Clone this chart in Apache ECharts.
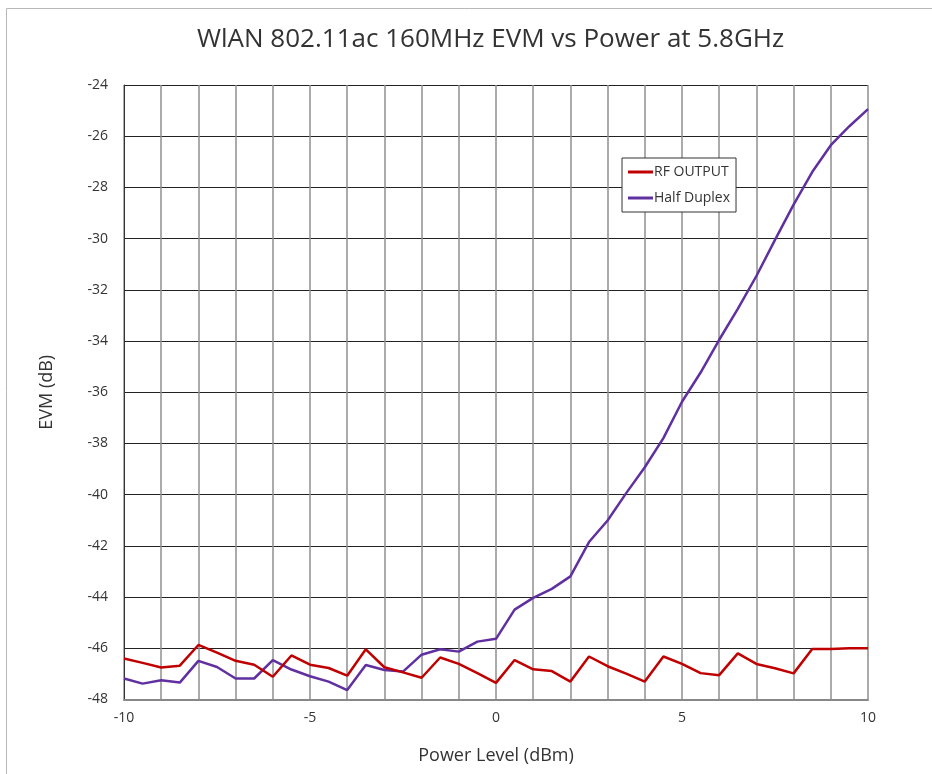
<!DOCTYPE html>
<html>
<head>
<meta charset="utf-8">
<script src="https://cdn.jsdelivr.net/npm/echarts@6/dist/echarts.min.js"></script>
<style>html,body{margin:0;padding:0;background:#fff}#c{width:932px;height:774px}</style>
</head>
<body>
<div id="c"></div>
<script>
var powerLevels = [-10,-9.5,-9,-8.5,-8,-7.5,-7,-6.5,-6,-5.5,-5,-4.5,-4,-3.5,-3,-2.5,-2,-1.5,-1,-0.5,0,
  0.5,1,1.5,2,2.5,3,3.5,4,4.5,5,5.5,6,6.5,7,7.5,8,8.5,9,9.5,10];
var rfOutput = [-46.40,-46.57,-46.75,-46.68,-45.87,-46.17,-46.49,-46.64,-47.11,-46.28,-46.64,-46.77,-47.07,-46.04,-46.74,-46.94,-47.15,-46.36,-46.61,-46.97,-47.35,
  -46.46,-46.82,-46.89,-47.30,-46.32,-46.70,-46.99,-47.30,-46.32,-46.61,-46.97,-47.05,-46.20,-46.61,-46.78,-46.98,-46.03,-46.03,-46.00,-46.00];
var halfDuplex = [-47.18,-47.38,-47.25,-47.34,-46.49,-46.73,-47.18,-47.18,-46.46,-46.83,-47.09,-47.30,-47.63,-46.65,-46.85,-46.91,-46.25,-46.04,-46.13,-45.74,-45.63,
  -44.49,-44.03,-43.68,-43.19,-41.85,-41.01,-39.94,-38.93,-37.79,-36.37,-35.23,-33.95,-32.74,-31.46,-30.05,-28.67,-27.40,-26.35,-25.61,-24.94];
var xLabelTicks = [-10,-5,0,5,10];
var titleText = 'WlAN 802.11ac 160MHz EVM vs Power at 5.8GHz';

function pairs(xs, ys){ return xs.map(function(x,i){ return [x, ys[i]]; }); }
var font = "'Open Sans', 'Noto Sans', sans-serif";
var chart = echarts.init(document.getElementById('c'), null, {renderer:'canvas'});
chart.setOption({
  animation: false,
  backgroundColor: '#fff',
  graphic: [{
    type: 'rect', left: 4, top: 6, shape: {x:0, y:0, width: 1000, height: 900},
    style: {fill: 'none', stroke: '#b8b8b8', lineWidth: 1}, silent: true, z: -1
  }],
  title: {
    text: titleText, left: 192, top: 22,
    textStyle: {fontFamily: font, fontSize: 26, fontWeight: 'normal', color: '#333'}
  },
  legend: {
    orient: 'vertical', left: 622, top: 158,
    backgroundColor: '#fff', borderColor: '#333', borderWidth: 1,
    padding: [7, 6, 7, 6], itemGap: 12,
    itemWidth: 25, itemHeight: 3, icon: 'rect',
    textStyle: {fontFamily: font, fontSize: 14, color: '#333', padding: [0,0,0,-4]},
    data: ['RF OUTPUT', 'Half Duplex']
  },
  grid: {left: 124, top: 85, right: 64, bottom: 74.5, containLabel: false},
  xAxis: {
    type: 'value', min: -10, max: 10, interval: 1,
    name: 'Power Level (dBm)', nameLocation: 'middle', nameGap: 47,
    nameTextStyle: {fontFamily: font, fontSize: 18, color: '#333'},
    axisLine: {show: true, onZero: false, lineStyle: {color: '#888', width: 2}},
    axisTick: {show: false},
    axisLabel: {
      margin: 12, fontFamily: font, fontSize: 14, color: '#333',
      formatter: function(v){ return xLabelTicks.indexOf(v) >= 0 ? String(v) : ''; }
    },
    splitLine: {show: true, lineStyle: {color: '#8f8f8f', width: 1.5}}
  },
  yAxis: {
    type: 'value', min: -48, max: -24, interval: 2,
    name: 'EVM (dB)', nameLocation: 'middle', nameGap: 68, nameRotate: 90,
    nameTextStyle: {fontFamily: font, fontSize: 18, color: '#333'},
    axisLine: {show: true, onZero: false, lineStyle: {color: '#333', width: 1}},
    axisTick: {show: false},
    axisLabel: {margin: 16, fontFamily: font, fontSize: 14, color: '#333'},
    splitLine: {show: true, lineStyle: {color: '#222', width: 1}}
  },
  series: [
    {name: 'RF OUTPUT', type: 'line', data: pairs(powerLevels, rfOutput), symbol: 'none',
     lineStyle: {color: '#C00000', width: 2.5}, itemStyle: {color: '#C00000'}, z: 3},
    {name: 'Half Duplex', type: 'line', data: pairs(powerLevels, halfDuplex), symbol: 'none',
     lineStyle: {color: '#6030A0', width: 2.5}, itemStyle: {color: '#6030A0'}, z: 2}
  ]
});
</script>
</body>
</html>
